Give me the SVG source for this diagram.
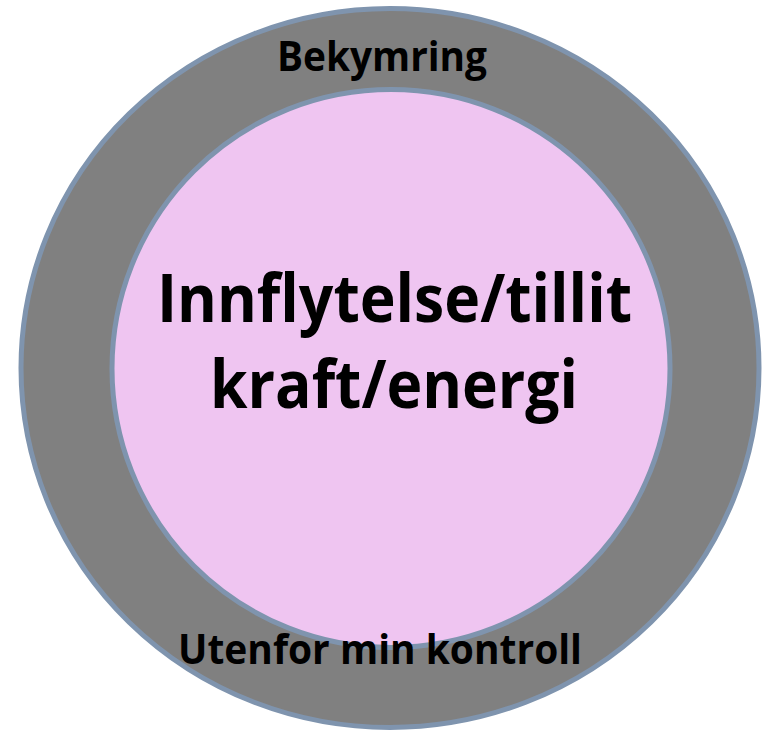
<svg xmlns="http://www.w3.org/2000/svg" width="768" height="731" viewBox="0 0 768 731">
<style>
.ring{stroke:#7f94ae;stroke-width:5}
.t{font-family:"Open Sans","Liberation Sans",sans-serif;font-weight:bold;fill:#000;text-anchor:middle}
</style>
<rect width="768" height="731" fill="#fff"/>
<g id="outer-shape">
<ellipse class="ring" cx="390" cy="368" rx="369" ry="359.5" fill="#808080"/>
</g>
<g id="inner">
<circle class="ring" cx="391" cy="368.5" r="279" fill="#efc5f1"/>
<text class="t" x="394.5" y="322" font-size="66" textLength="475" lengthAdjust="spacingAndGlyphs">Innflytelse/tillit</text>
<text class="t" x="394" y="408" font-size="66" textLength="368" lengthAdjust="spacingAndGlyphs">kraft/energi</text>
</g>
<g id="outer-labels">
<text class="t" x="382" y="71" font-size="41" textLength="210" lengthAdjust="spacingAndGlyphs">Bekymring</text>
<text class="t" x="380" y="664" font-size="41" textLength="404" lengthAdjust="spacingAndGlyphs">Utenfor min kontroll</text>
</g>
<g id="connectors"/>
</svg>
